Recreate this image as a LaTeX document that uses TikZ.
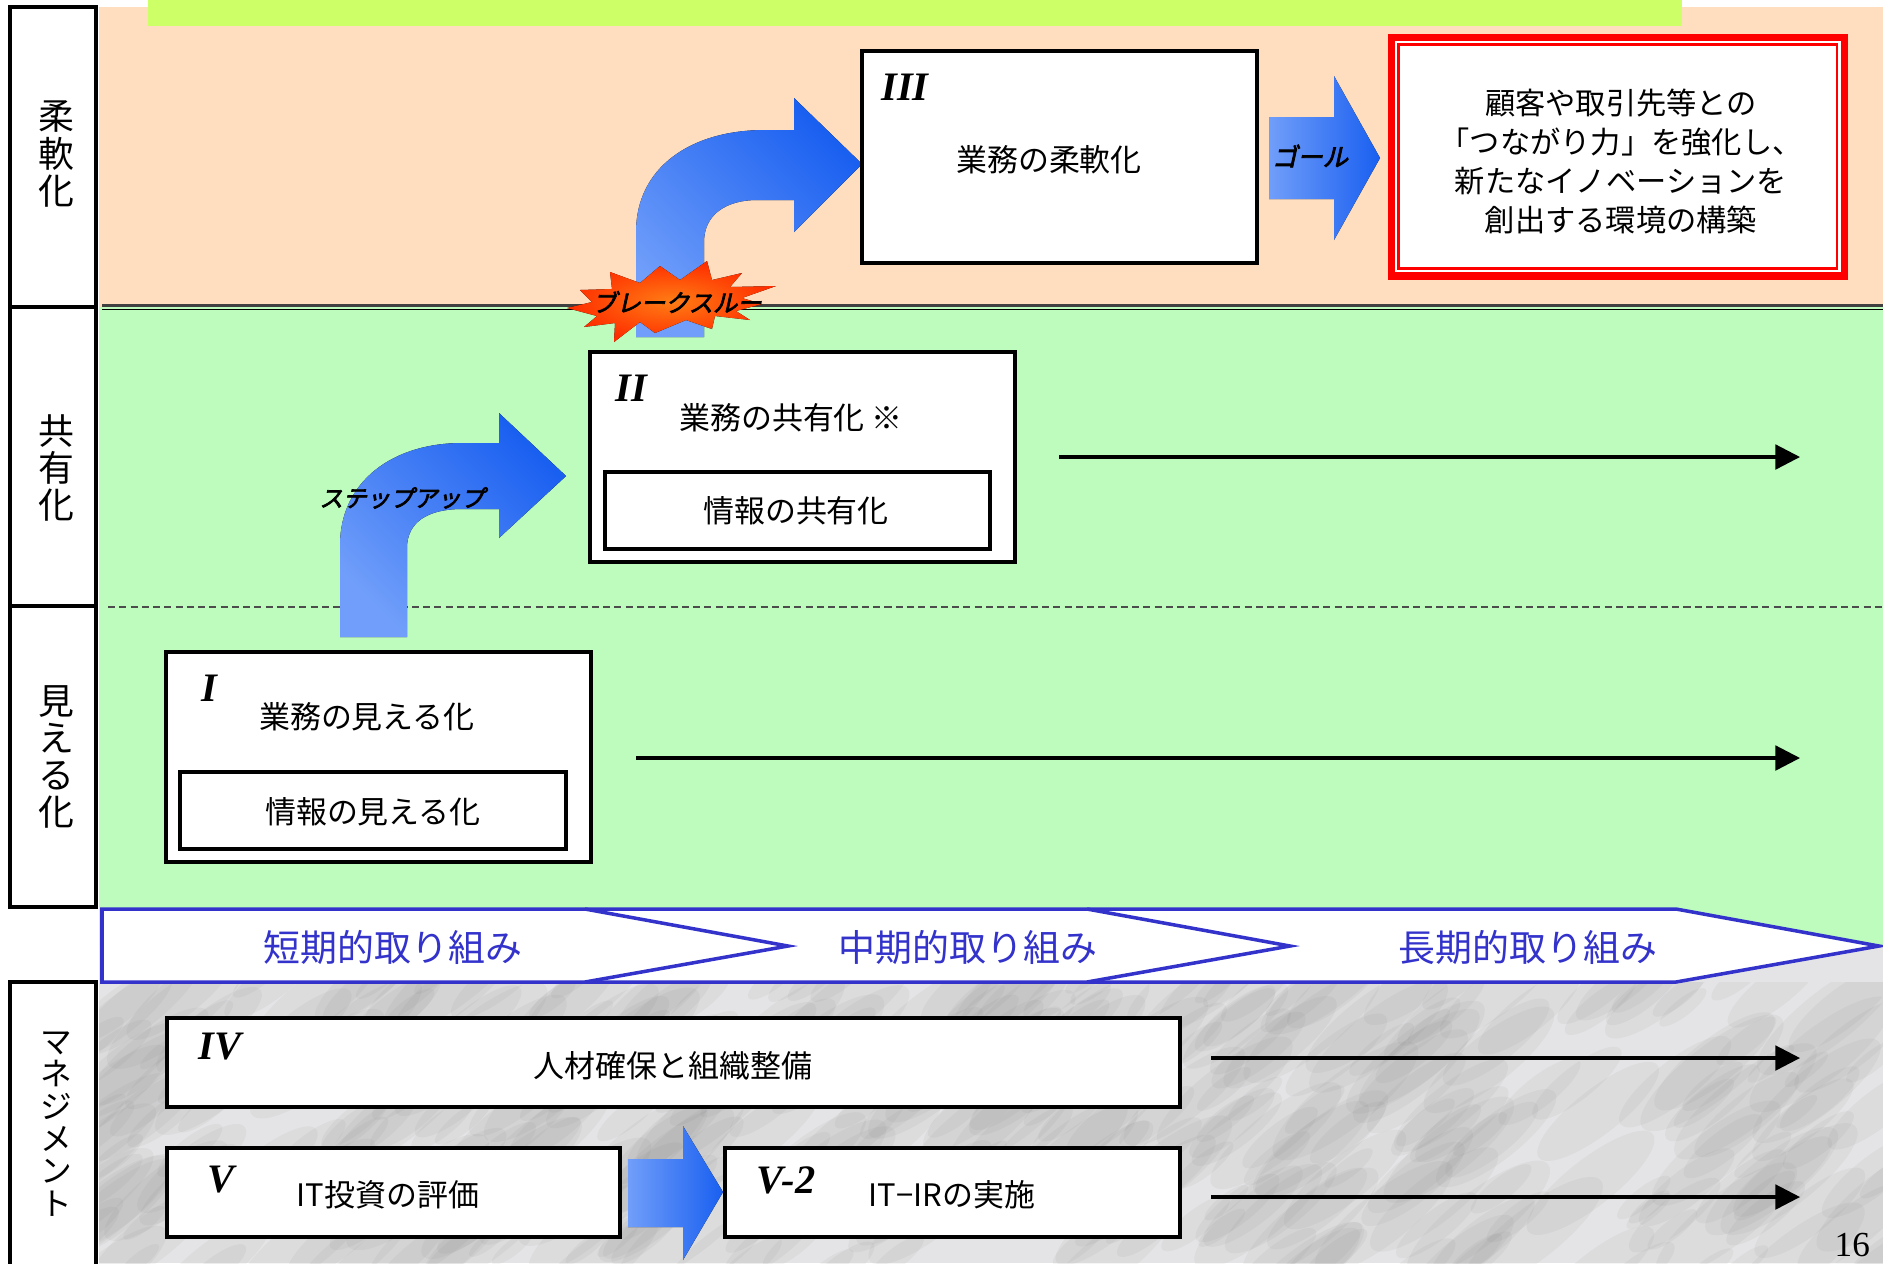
\documentclass[tikz,border=0pt]{standalone}
\usepackage{fontspec}
\setmainfont{Noto Sans CJK JP}
\newfontfamily\jpbi[FakeSlant=0.22,FakeBold=3]{Noto Sans CJK JP}
\newfontfamily\romfont{Liberation Serif}
\usetikzlibrary{arrows.meta}
\definecolor{peach}{RGB}{255,222,192}
\definecolor{mint}{RGB}{190,252,190}
\definecolor{lime}{RGB}{205,255,102}
\definecolor{marble}{RGB}{228,228,230}
\definecolor{tlblue}{RGB}{51,51,204}
\definecolor{arrlight}{RGB}{112,158,250}
\definecolor{arrdark}{RGB}{25,95,240}
\definecolor{burstred}{RGB}{255,45,0}
\definecolor{burstorange}{RGB}{255,125,20}
\definecolor{goalred}{RGB}{255,0,0}
\begin{document}
\begin{tikzpicture}[x=0.01cm,y=-0.01cm,
  boxst/.style={draw=black,line width=1.1pt,fill=white,inner sep=0pt},
  cell/.style={draw=black,line width=1.1pt,fill=white,inner sep=0pt},
  jtext/.style={font=\fontsize{8.8}{11}\selectfont,inner sep=0pt},
  goaltext/.style={font=\fontsize{8.6}{11.1}\selectfont,inner sep=0pt,align=center},
  coltext/.style={font=\fontsize{10.2}{10.6}\selectfont,align=center,inner sep=0pt},
  mgtext/.style={font=\fontsize{9}{9.2}\selectfont,align=center,inner sep=0pt},
  numlabel/.style={font=\romfont\bfseries\itshape\fontsize{11.5}{12}\selectfont,inner sep=0pt},
  tltext/.style={font=\fontsize{10.5}{12}\selectfont,text=tlblue,inner sep=0pt},
  emphtext/.style={font=\jpbi\fontsize{6.9}{8}\selectfont,inner sep=0pt},
  longarrow/.style={line width=0.9pt,-{Triangle[length=7pt,width=7pt]}},
  bentarrow/.style={top color=arrdark,bottom color=arrlight,shading angle=-45},
  flatarrow/.style={left color=arrlight,right color=arrdark},
]
\useasboundingbox (0,0) rectangle (1883,1263);
\clip (0,0) rectangle (1883,1263);
\fill[white] (0,0) rectangle (1883,1263);

% backgrounds
\fill[peach] (99,7) rectangle (1883,307);
\fill[lime] (148,0) rectangle (1682,26);
\fill[mint] (99,307) rectangle (1883,946);
\fill[marble] (99,946) rectangle (1883,1263);
\begin{scope}
  \clip (99,982) rectangle (1883,1263);
  \pgfmathsetseed{11}
  \foreach \i in {1,...,420}{
    \pgfmathsetmacro\xx{80+rnd*1820}
    \pgfmathsetmacro\yy{975+rnd*300}
    \pgfmathsetmacro\rr{8+rnd*22}
    \fill[black!55,opacity=0.07,rotate around={38:(\xx,\yy)}] (\xx,\yy) ellipse ({\rr*0.03cm} and {\rr*0.009cm});
  }
\end{scope}

% separators
\draw[black!75,line width=0.6pt] (102,305.5) -- (1883,305.5);
\draw[black,line width=0.35pt] (102,309.5) -- (1883,309.5);
\draw[black!70,line width=0.45pt,dash pattern=on 2pt off 1.2pt] (108,607) -- (1883,607);

% timeline band
\filldraw[draw=tlblue,fill=white,line width=1pt] (102,909) -- (1676,909) -- (1879,946) -- (1676,982) -- (102,982) -- cycle;
\draw[tlblue,line width=1pt] (585,909) -- (788,946) -- (585,982);
\draw[tlblue,line width=1pt] (1087,909) -- (1290,946) -- (1087,982);
\node[tltext] (tl1) at (393,947) {短期的取り組み};
\node[tltext] (tl2) at (968,947) {中期的取り組み};
\node[tltext] (tl3) at (1528,947) {長期的取り組み};

% left column
\node[cell,minimum width=0.86cm,minimum height=3.0cm] (c1) at (53,157) {};
\node[cell,minimum width=0.86cm,minimum height=2.99cm] (c2) at (53,456.5) {};
\node[cell,minimum width=0.86cm,minimum height=3.01cm] (c3) at (53,756.5) {};
\node[cell,minimum width=0.86cm,minimum height=3.0cm] (c4) at (53,1132) {};
\node[coltext] (c1t) at (56,154) {柔\\軟\\化};
\node[coltext] (c2t) at (56,468) {共\\有\\化};
\node[coltext] (c3t) at (56,757) {見\\え\\る\\化};
\node[mgtext] (c4t) at (56,1124) {マ\\ネ\\ジ\\メ\\ン\\ト};

% long arrows
\coordinate (r2s) at (1059,457); \coordinate (r2e) at (1800,457);
\coordinate (r1s) at (636,758); \coordinate (r1e) at (1800,758);
\coordinate (r4s) at (1211,1058); \coordinate (r4e) at (1800,1058);
\coordinate (r5s) at (1211,1197); \coordinate (r5e) at (1800,1197);
\draw[longarrow] (r2s) -- (r2e);
\draw[longarrow] (r1s) -- (r1e);
\draw[longarrow] (r4s) -- (r4e);
\draw[longarrow] (r5s) -- (r5e);

% step-up arrow
\fill[bentarrow] (340,637) -- (340,545) .. controls (340,482) and (392,443) .. (462,443) -- (499,443) -- (499,413) -- (566,476) -- (499,538) -- (499,509) -- (462,509) .. controls (428,509) and (407,522) .. (407,548) -- (407,637) -- cycle;
% breakthrough arrow
\fill[bentarrow] (636,337) -- (636,232) .. controls (636,168) and (690,130) .. (765,130) -- (794,130) -- (794,98) -- (862,164) -- (794,232) -- (794,200) -- (757,200) .. controls (727,200) and (704,214) .. (704,242) -- (704,337) -- cycle;

% boxes
\node[boxst,minimum width=4.25cm,minimum height=2.1cm] (b1) at (378.5,757) {};
\node[boxst,minimum width=3.86cm,minimum height=0.77cm] (b1in) at (373,810.5) {};
\node[numlabel] (l1) at (209,688) {I};
\node[jtext] (t1) at (367,717) {業務の見える化};
\node[jtext] (t1in) at (373,812) {情報の見える化};

\node[boxst,minimum width=4.25cm,minimum height=2.1cm] (b2) at (802.5,457) {};
\node[boxst,minimum width=3.85cm,minimum height=0.77cm] (b2in) at (797.5,510.5) {};
\node[numlabel] (l2) at (631,388) {II};
\node[jtext] (t2) at (791,418) {業務の共有化 ※};
\node[jtext] (t2in) at (796,511) {情報の共有化};

\node[boxst,minimum width=3.95cm,minimum height=2.12cm] (b3) at (1059.5,157) {};
\node[numlabel] (l3) at (905,87) {III};
\node[jtext] (t3) at (1049,160) {業務の柔軟化};

% goal
\fill[flatarrow] (1269,117) -- (1334,117) -- (1334,76) -- (1380,158) -- (1334,240) -- (1334,199) -- (1269,199) -- cycle;
\node[emphtext,font=\jpbi\fontsize{7.2}{8}\selectfont] (goall) at (1310,156) {ゴール};
\filldraw[draw=goalred,fill=white,line width=2pt] (1391.5,37.5) rectangle (1844,276);
\draw[goalred,line width=0.6pt] (1398.5,44.5) rectangle (1837,268.5);
\node[goaltext] (goal) at (1621,161) {顧客や取引先等との\\「つながり力」を強化し、\\新たなイノベーションを\\創出する環境の構築};

% starburst
\fill[inner color=burstorange,outer color=burstred]
  (567,308) -- (592,302) -- (580,290) -- (612,289) -- (610,272) -- (640,283) -- (660,266) -- (680,280)
  -- (707,261) -- (712,280) -- (742,273) -- (730,287) -- (776,286) -- (742,298) -- (762,304) -- (736,311)
  -- (750,320) -- (715,316) -- (712,329) -- (686,320) -- (655,333) -- (640,322) -- (614,342) -- (615,323)
  -- (584,327) -- (597,316) -- cycle;
\node[emphtext] (brkl) at (677,302) {ブレークスルー};
\node[emphtext,font=\jpbi\fontsize{6.7}{8}\selectfont] (stepl) at (402,498) {ステップアップ};

% management boxes
\node[boxst,minimum width=10.13cm,minimum height=0.89cm] (b4) at (673.5,1062.5) {};
\node[numlabel] (l4) at (220,1047) {IV};
\node[jtext] (t4) at (673,1066) {人材確保と組織整備};

\fill[flatarrow] (628,1159) -- (683,1159) -- (683,1126) -- (723,1192) -- (683,1260) -- (683,1227) -- (628,1227) -- cycle;
\node[boxst,minimum width=4.53cm,minimum height=0.89cm] (b5) at (393.5,1192.5) {};
\node[numlabel] (l5) at (221,1180) {V};
\node[jtext] (t5) at (388,1195) {IT投資の評価};
\node[boxst,minimum width=4.55cm,minimum height=0.89cm] (b52) at (952.5,1192.5) {};
\node[numlabel] (l52) at (786,1180) {V-2};
\node[jtext] (t52) at (952,1195) {IT−IRの実施};

\node[font=\romfont\fontsize{10}{12}\selectfont,anchor=base west,inner sep=0pt] (pg) at (1834,1256) {16};
\end{tikzpicture}
\end{document}
